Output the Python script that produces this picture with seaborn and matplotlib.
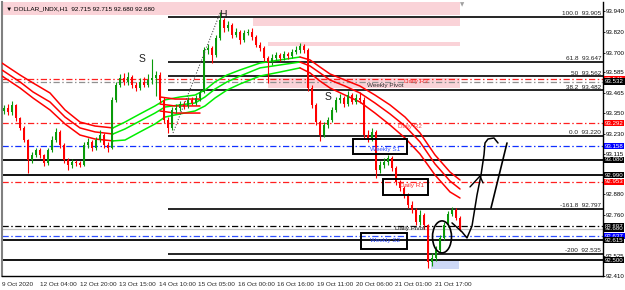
import numpy as np
import pandas as pd
import matplotlib
matplotlib.use("Agg")
import matplotlib.pyplot as plt
import matplotlib.transforms as mtransforms
from matplotlib.patches import Rectangle, Ellipse
import seaborn as sns

sns.set_style("white")
plt.rcParams['font.family'] = ['Liberation Sans', 'DejaVu Sans']

# ---------------- data ----------------
first_open = 93.360
closes = [93.379, 93.356, 93.397, 93.322, 93.264, 93.194, 93.079, 93.108, 93.137, 93.108,
          93.061, 93.137, 93.194, 93.241, 93.165, 93.079, 93.050, 93.067, 93.061, 93.050,
          93.165, 93.183, 93.148, 93.194, 93.223, 93.165, 93.148, 93.426, 93.512, 93.553,
          93.530, 93.559, 93.512, 93.495, 93.530, 93.512, 93.541, 93.553, 93.570, 93.426,
          93.310, 93.264, 93.368, 93.379, 93.402, 93.391, 93.426, 93.408, 93.437, 93.472,
          93.715, 93.726, 93.686, 93.784, 93.888, 93.842, 93.859, 93.801, 93.819, 93.772,
          93.813, 93.819, 93.790, 93.743, 93.726, 93.668, 93.645, 93.668, 93.686, 93.668,
          93.691, 93.680, 93.703, 93.715, 93.738, 93.715, 93.495, 93.397, 93.298, 93.223,
          93.281, 93.310, 93.368, 93.426, 93.437, 93.402, 93.454, 93.414, 93.437, 93.426,
          93.223, 93.206, 93.241, 93.021, 93.050, 93.067, 93.090, 93.033, 92.952, 92.917,
          92.876, 92.819, 92.790, 92.720, 92.761, 92.703, 92.489, 92.512, 92.559, 92.628,
          92.703, 92.767, 92.790, 92.744, 92.680]
highs = [93.395, 93.400, 93.420, 93.405, 93.330, 93.275, 93.200, 93.125, 93.150, 93.150,
         93.115, 93.150, 93.215, 93.265, 93.250, 93.175, 93.090, 93.085, 93.080, 93.070,
         93.180, 93.205, 93.195, 93.210, 93.250, 93.235, 93.180, 93.440, 93.530, 93.575,
         93.580, 93.585, 93.570, 93.530, 93.550, 93.560, 93.575, 93.663, 93.595, 93.585,
         93.440, 93.330, 93.385, 93.400, 93.420, 93.420, 93.445, 93.440, 93.455, 93.490,
         93.730, 93.750, 93.740, 93.800, 93.934, 93.900, 93.880, 93.870, 93.840, 93.830,
         93.830, 93.835, 93.840, 93.800, 93.760, 93.735, 93.680, 93.690, 93.705, 93.700,
         93.710, 93.705, 93.720, 93.735, 93.755, 93.750, 93.725, 93.510, 93.410, 93.310,
         93.300, 93.330, 93.385, 93.445, 93.460, 93.450, 93.475, 93.465, 93.460, 93.470,
         93.440, 93.250, 93.265, 93.250, 93.075, 93.090, 93.110, 93.100, 93.045, 92.965,
         92.930, 92.885, 92.840, 92.800, 92.790, 92.775, 92.710, 92.540, 92.580, 92.645,
         92.720, 92.785, 92.807, 92.800, 92.755]
lows = [93.345, 93.340, 93.340, 93.305, 93.250, 93.180, 93.004, 93.060, 93.095, 93.090,
        93.045, 93.050, 93.125, 93.185, 93.150, 93.060, 93.021, 93.035, 93.045, 93.040,
        93.045, 93.150, 93.130, 93.135, 93.180, 93.150, 93.125, 93.140, 93.415, 93.500,
        93.510, 93.515, 93.495, 93.480, 93.485, 93.500, 93.500, 93.520, 93.450, 93.410,
        93.290, 93.235, 93.250, 93.350, 93.360, 93.375, 93.380, 93.395, 93.395, 93.420,
        93.465, 93.690, 93.640, 93.675, 93.770, 93.820, 93.825, 93.785, 93.790, 93.750,
        93.760, 93.800, 93.775, 93.730, 93.710, 93.650, 93.524, 93.630, 93.655, 93.650,
        93.655, 93.665, 93.670, 93.690, 93.700, 93.700, 93.480, 93.380, 93.280, 93.189,
        93.210, 93.265, 93.300, 93.355, 93.410, 93.385, 93.390, 93.400, 93.400, 93.410,
        93.205, 93.185, 93.190, 92.975, 93.005, 93.035, 93.050, 93.015, 92.935, 92.900,
        92.860, 92.800, 92.770, 92.700, 92.705, 92.680, 92.455, 92.465, 92.495, 92.545,
        92.615, 92.690, 92.755, 92.730, 92.670]
opens = [first_open] + closes[:-1]

time_labels = ["9 Oct 2020", "12 Oct 04:00", "12 Oct 20:00", "13 Oct 15:00", "14 Oct 10:00",
               "15 Oct 05:00", "16 Oct 00:00", "16 Oct 16:00", "19 Oct 11:00", "20 Oct 06:00",
               "21 Oct 01:00", "21 Oct 17:00"]
time_label_bars = [1, 20, 40, 59.5, 79.5, 99, 119, 138.5, 158.5, 178, 197.5, 217.5]

price_ticks = [93.940, 93.820, 93.700, 93.585, 93.465, 93.350, 93.230, 93.115, 92.995,
               92.880, 92.760, 92.645, 92.525, 92.410]

# moving-average envelope (3 lines), segments coloured by trend
red1_bars = [1, 10, 16.5, 25, 32.5, 40, 47.5, 56.5]
red1_top = [93.639, 93.570, 93.524, 93.466, 93.368, 93.298, 93.275, 93.264]
red1_mid = [93.599, 93.530, 93.472, 93.414, 93.327, 93.264, 93.241, 93.229]
red1_low = [93.564, 93.495, 93.437, 93.368, 93.287, 93.223, 93.200, 93.189]

green_bars = [56.5, 62.5, 70, 77.5, 82.5, 90, 97.5, 102.5, 107.5, 113.5, 120, 130, 140, 150]
green_top = [93.264, 93.298, 93.345, 93.391, 93.426, 93.443, 93.454, 93.483, 93.530, 93.570,
             93.599, 93.639, 93.657, 93.674]
green_mid = [93.229, 93.258, 93.304, 93.350, 93.385, 93.397, 93.408, 93.443, 93.489, 93.530,
             93.564, 93.611, 93.628, 93.645]
green_low = [93.189, 93.194, 93.241, 93.287, 93.327, 93.345, 93.362, 93.391, 93.437, 93.483,
             93.518, 93.564, 93.587, 93.611]

red2_bars = [80, 87.5, 95, 100]
red2_top = [93.443, 93.431, 93.431, 93.431]
red2_mid = [93.402, 93.391, 93.391, 93.391]
red2_low = [93.362, 93.350, 93.350, 93.350]

red3_bars = [150, 155, 160, 165, 172.5, 180, 187.5, 195, 202.5, 210, 217.5, 225, 230]
red3_top = [93.674, 93.657, 93.616, 93.576, 93.541, 93.506, 93.454, 93.397, 93.327, 93.235,
            93.108, 93.009, 92.963]
red3_mid = [93.645, 93.622, 93.582, 93.541, 93.506, 93.466, 93.408, 93.345, 93.275, 93.183,
            93.056, 92.957, 92.911]
red3_low = [93.611, 93.582, 93.535, 93.495, 93.454, 93.414, 93.350, 93.281, 93.206, 93.113,
            92.992, 92.894, 92.859]

full_levels = [93.080, 92.990, 92.615, 92.500]
fib_start_bar = 84
fib_levels = [93.905, 93.647, 93.562, 93.482, 93.220, 92.797, 92.535]
fib_names = ["100.0", "61.8", "50", "38.2", "0.0", "-161.8", "-200"]

pivot_names = ["Daily R3", "Weekly Pivot", "Daily R2", "Weekly S1", "Daily R1", "Daily Pivot", "Weekly S2"]
pivot_levels = [93.545, 93.532, 93.292, 93.158, 92.953, 92.697, 92.637]
pivot_colors = ["#ff2020", "#909090", "#ff2020", "#1030ff", "#ff2020", "#000000", "#3050ff"]
pivot_text_colors = ["#ff3030", "#303030", "#ff4040", "#3050ff", "#ff3030", "#202020", "#3050ff"]
pivot_text_bars = [202, 183.5, 199, 185, 200, 197.5, 185]
pivot_text_prices = [93.532, 93.512, 93.270, 93.142, 92.934, 92.680, 92.611]
bid_price = 92.680

axis_box_prices = [93.545, 93.532, 93.292, 93.158, 93.080, 92.990, 92.953, 92.697, 92.680, 92.637, 92.615, 92.500]
axis_box_colors = ["#ff0000", "#000000", "#ff0000", "#0000ff", "#000000", "#000000", "#ff0000",
                   "#000000", "#000000", "#0000ff", "#000000", "#000000"]

# zones [x0, x1, p_low, p_high]
pink_zones = [[0, 230, 93.917, 93.995], [126.5, 230, 93.853, 93.900],
              [134, 230, 93.738, 93.761], [134, 230, 93.494, 93.553]]
blue_zone = [215.5, 229.5, 92.449, 92.495]
label_boxes = [[176.5, 203.5, 93.113, 93.200], [191.5, 214, 92.876, 92.969],
               [180.5, 203.5, 92.564, 92.657]]

pattern_text = ["S", "H", "S"]
pattern_bars = [71, 111.5, 164]
pattern_prices = [93.663, 93.917, 93.443]

diag_bars = [86.5, 110]
diag_prices = [93.235, 93.928]

ellipse_center = (221, 92.634)
ellipse_size = (9.5, 0.185)

hand_bars = [226, 231, 233.5, 236, 238.5, 240.5, 242, 242.5, 244, 247, 249]
hand_prices = [92.715, 92.663, 92.628, 92.697, 92.876, 92.992, 93.108, 93.177, 93.200, 93.206, 93.177]
arrow_bars = [235, 240, 241.5]
arrow_prices = [92.923, 92.986, 92.946]
straight_bars = [245.5, 253.5]
straight_prices = [92.801, 93.177]

# ---------------- figure ----------------
W, H = 625, 290
FS = 4.6
FSR = 4.4
fig = plt.figure(figsize=(W / 100, H / 100), dpi=100)
fig.patch.set_facecolor("white")
ax = fig.add_axes([2 / W, 14 / H, 601 / W, 274 / H])
ax.set_facecolor("white")
ax.set_xlim(1, 301.5)
ax.set_ylim(92.408, 93.992)

# zones
for x0, x1, p0, p1 in pink_zones:
    ax.add_patch(Rectangle((x0, p0), x1 - x0, p1 - p0, fc="#fad3d8", ec="none", zorder=0))
ax.add_patch(Rectangle((blue_zone[0], blue_zone[2]), blue_zone[1] - blue_zone[0],
                       blue_zone[3] - blue_zone[2], fc="#cdd8f6", ec="none", zorder=0))

# level lines
for lv in full_levels:
    ax.axhline(lv, color="black", lw=1.3, zorder=1)
for lv, nm in zip(fib_levels, fib_names):
    ax.hlines(lv, fib_start_bar, 301.5, color="black", lw=1.2, zorder=1)
    ax.text(300.5, lv + 0.004, f"{nm}  {lv:.3f}", ha="right", va="bottom", fontsize=FS,
            color="#202020", zorder=6)
dashdot = (0, (5, 2, 1.2, 2))
for lv, c in zip(pivot_levels, pivot_colors):
    ax.axhline(lv, color=c, lw=0.9, ls=dashdot, zorder=1)
ax.axhline(bid_price, color="#c0c0c0", lw=0.9, zorder=1)

# moving average envelopes
def band(xs, ys_list, color):
    for ys in ys_list:
        sns.lineplot(x=xs, y=ys, color=color, lw=1.1, ax=ax, estimator=None, sort=False,
                     legend=False, zorder=3)

band(red1_bars, [red1_top, red1_mid, red1_low], "#ff0000")
band(green_bars, [green_top, green_mid, green_low], "#00ee00")
band(red2_bars, [red2_top, red2_mid, red2_low], "#ff0000")
band(red3_bars, [red3_top, red3_mid, red3_low], "#ff0000")

# candles
df = pd.DataFrame({"open": opens, "high": highs, "low": lows, "close": closes})
df["bar"] = 2 * (np.arange(len(df)) + 1)
bull = df["close"] >= df["open"]
colors = np.where(bull, "#0a9a0a", "#ff0000")
ax.vlines(df["bar"], df["low"], df["high"], colors=colors, lw=0.8, zorder=4)
body_low = df[["open", "close"]].min(axis=1)
body_h = (df["close"] - df["open"]).abs().clip(lower=0.004)
ax.bar(df["bar"], body_h, bottom=body_low, width=1.3, color=colors, zorder=4, linewidth=0)

# drawings
ax.plot(diag_bars, diag_prices, color="#505050", lw=0.8, ls=(0, (1, 1.5)), zorder=5)
for t, xb, pr in zip(pattern_text, pattern_bars, pattern_prices):
    ax.text(xb, pr, t, fontsize=7.5, ha="center", va="center", color="#202020", zorder=6)
for x0, x1, p0, p1 in label_boxes:
    ax.add_patch(Rectangle((x0, p0), x1 - x0, p1 - p0, fc="none", ec="black", lw=1.4, zorder=5))
for nm, xb, pr, c in zip(pivot_names, pivot_text_bars, pivot_text_prices, pivot_text_colors):
    ax.text(xb, pr, nm, fontsize=FS, ha="left", va="center", color=c, zorder=6)
ax.add_patch(Ellipse(ellipse_center, ellipse_size[0], ellipse_size[1], fc="none",
                     ec="black", lw=1.2, zorder=6))
ax.plot(hand_bars, hand_prices, color="black", lw=1.1, zorder=6)
ax.plot(arrow_bars, arrow_prices, color="black", lw=1.0, zorder=6)
ax.plot(straight_bars, straight_prices, color="black", lw=1.2, zorder=6)

# header
ax.text(0.006, 0.975, "▼ DOLLAR_INDX,H1  92.715 92.715 92.680 92.680", transform=ax.transAxes,
        fontsize=FS, ha="left", va="center", color="black", zorder=7,
        family=["Liberation Sans", "DejaVu Sans"])
ax.text(231, 93.978, "▼", fontsize=4, color="#a0a0a0", ha="center", va="center",
        family=["DejaVu Sans"], zorder=7)

# axes styling
ax.spines["top"].set_visible(False)
ax.spines["right"].set_color("black")
ax.spines["right"].set_linewidth(1.0)
ax.spines["bottom"].set_color("black")
ax.spines["bottom"].set_linewidth(1.0)
ax.spines["left"].set_color("#808080")
ax.spines["left"].set_linewidth(1.5)

ax.yaxis.tick_right()
ax.set_yticks(price_ticks)
ax.set_yticklabels([f"{p:.3f}" for p in price_ticks])
ax.tick_params(axis="y", direction="out", length=1.5, width=0.6, labelsize=FSR, pad=0.5,
               colors="black")
ax.set_xticks(time_label_bars)
ax.set_xticklabels(time_labels)
ax.tick_params(axis="x", direction="out", length=3, width=0.6, labelsize=FS, pad=1)
for lab in ax.get_xticklabels():
    lab.set_ha("left")
ax.set_xlabel("")
ax.set_ylabel("")

trans = mtransforms.blended_transform_factory(ax.transAxes, ax.transData)
for p, c in zip(axis_box_prices, axis_box_colors):
    ax.text(1.0035, p, f"{p:.3f}", transform=trans, fontsize=FSR, color="white", ha="left",
            va="center", zorder=8, clip_on=False,
            bbox=dict(boxstyle="square,pad=0.1", fc=c, ec="none"))

fig.savefig("out.png", dpi=100)
